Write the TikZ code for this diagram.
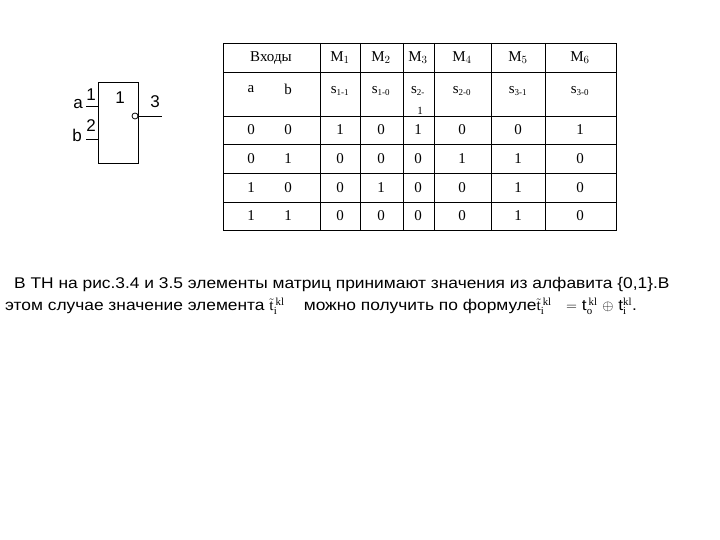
\documentclass[tikz,border=0pt]{standalone}
\usepackage{fontspec}
\setmainfont{Liberation Serif}
\newfontfamily\arialf{Liberation Sans}
\newfontfamily\arialw[FakeStretch=1.12]{Liberation Sans}
\begin{document}
\begin{tikzpicture}[x=1pt,y=-1pt,
  cell/.style={font=\fontsize{15}{15}\selectfont},
  sf/.style={font=\arialf\fontsize{17}{17}\selectfont},
  txt/.style={font=\arialw\fontsize{15.5}{16}\selectfont,anchor=west,inner sep=0pt},
  ln/.style={line width=0.8pt}]
\useasboundingbox (0,0) rectangle (720,540);
% gate
\draw[ln] (98,82) rectangle (138,163);
\coordinate (ia) at (86,106); \coordinate (ia2) at (98,106);
\coordinate (ib) at (86,139); \coordinate (ib2) at (98,139);
\draw[ln] (ia) -- (ia2); \draw[ln] (ib) -- (ib2);
\node[draw,circle,ln,inner sep=0pt,minimum size=6pt] (bub) at (135,116) {};
\coordinate (out) at (162,116);
\draw[ln] (bub.east) -- (out);
\node[sf,inner sep=0pt] (la) at (78,104) {a};
\node[sf,inner sep=0pt] (lb) at (77,135) {b};
\node[sf,inner sep=0pt] (n1) at (91,95) {1};
\node[sf,inner sep=0pt] (n2) at (91,126) {2};
\node[sf,inner sep=0pt] (g1) at (120,98) {1};
\node[sf,inner sep=0pt] (g3) at (155,102) {3};
% table
\draw[ln] (223,43) rectangle (616,230);
\foreach \y in {72,116,144,173,202} \draw[ln] (223,\y) -- (616,\y);
\foreach \x in {320,360,403,434,491,545} \draw[ln] (\x,43) -- (\x,230);
\node[cell] at (271,58) {Входы};
\node[cell] at (340,58) {M$_1$};
\node[cell] at (381,58) {M$_2$};
\node[cell] at (418,58) {M$_3$};
\node[cell] at (462,58) {M$_4$};
\node[cell] at (518,58) {M$_5$};
\node[cell] at (580,58) {M$_6$};
\node[cell] at (251,89) {a};
\node[cell] at (288,89) {b};
\node[cell] at (340,91) {s$_{\mbox{\small 1-1}}$};
\node[cell] at (381,91) {s$_{\mbox{\small 1-0}}$};
\node[cell] at (418,91) {s$_{\mbox{\small 2-}}$};
\node[cell,font=\fontsize{11}{11}\selectfont] at (420,111) {1};
\node[cell] at (462,91) {s$_{\mbox{\small 2-0}}$};
\node[cell] at (518,91) {s$_{\mbox{\small 3-1}}$};
\node[cell] at (580,91) {s$_{\mbox{\small 3-0}}$};
\foreach \r/\y in {{0,0,1,0,1,0,0,1}/130,{0,1,0,0,0,1,1,0}/159,{1,0,0,1,0,0,1,0}/188,{1,1,0,0,0,0,1,0}/216}{
  \foreach \v [count=\i] in \r {
    \pgfmathsetmacro{\xx}{{0,251,288,340,381,418,462,518,580}[\i]}
    \node[cell] at (\xx,\y) {\v};
  }
}
% text
\node[txt] (t1) at (14,284) {В ТН на рис.3.4 и 3.5 элементы матриц принимают значения из алфавита \{0,1\}.В};
\node[txt] (t2) at (5,306) {этом случае значение элемента $\tilde{\mathrm t}_{\mathrm i}^{\,\mathrm{kl}}$\ \ \ \ можно получить по формуле$\tilde{\mathrm t}_{\mathrm i}^{\,\mathrm{kl}}$\ \ \ $=$ t$_{\mathrm o}^{\,\mathrm{kl}}$\ $\oplus$\ t$_{\mathrm i}^{\mathrm{kl}}$.};
\end{tikzpicture}
\end{document}
